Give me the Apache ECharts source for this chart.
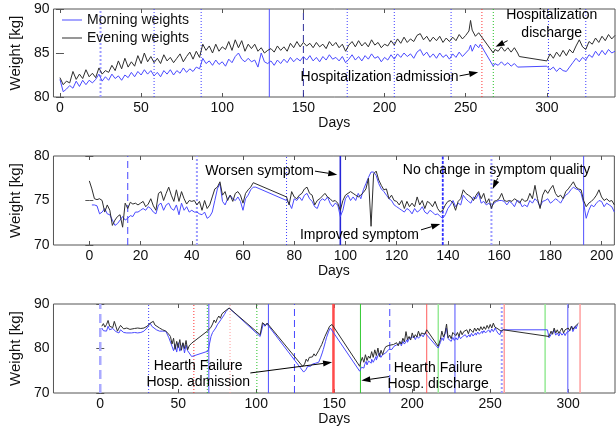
<!DOCTYPE html>
<html><head><meta charset="utf-8">
<script src="https://cdn.jsdelivr.net/npm/echarts@6/dist/echarts.min.js"></script>
<style>html,body{margin:0;padding:0;background:#fff}#c{width:616px;height:427px}</style>
</head><body><div id="c"></div>
<script>
// ---------------- DATA ----------------
const topDays = [
 0,2,4,6,8,10,12,14,16,18,
 20,22,24,26,28,30,32,34,36,38,
 40,42,44,46,48,50,52,54,56,58,
 60,62,64,66,68,70,72,74,76,78,
 80,82,84,86,88,90,92,94,96,98,
 100,102,104,106,108,110,112,114,116,118,
 120,122,124,126,128,130,132,134,136,138,
 140,142,144,146,148,150,152,154,156,158,
 160,162,164,166,168,170,172,174,176,178,
 180,182,184,186,188,190,192,194,196,198,
 200,202,204,206,208,210,212,214,216,218,
 220,222,224,226,228,230,232,234,236,238,
 240,242,244,246,248,250,252,
 253,254,256,258,259,
 267,268,270,272,274,276,278,280,282,283,
 300,302,304,306,308,310,312,314,316,318,320,322,324,326,328,330,332,334,336,338,340,342];
const topEvening = [
 82.2,81.4,81.8,81.6,82.9,82.0,82.6,82.1,83.1,82.3,
 82.7,82.2,83.3,82.6,83.0,82.8,83.6,83.0,84.1,83.2,
 84.4,83.4,84.0,83.5,84.7,83.8,85.0,84.0,84.6,83.9,
 84.4,83.8,84.8,84.1,84.5,83.9,84.4,84.9,84.0,84.6,
 85.1,84.3,85.2,84.5,86.0,85.3,85.8,85.0,86.0,85.2,
 85.7,85.4,86.3,85.3,86.5,85.6,86.4,85.2,86.0,85.5,
 86.0,85.2,85.6,85.0,85.3,85.5,85.1,85.8,85.3,85.7,
 85.2,86.1,85.6,86.3,85.7,86.2,85.8,86.1,85.6,86.2,
 85.7,86.0,85.5,86.3,85.8,86.2,85.6,86.0,85.2,85.9,
 86.3,85.7,86.4,85.8,86.2,85.7,86.5,85.9,86.2,85.6,
 86.0,85.8,86.4,85.9,86.6,86.1,86.8,86.2,86.6,86.3,
 87.0,87.2,86.5,86.9,86.3,86.8,86.4,86.9,86.2,86.7,
 86.3,86.8,86.4,87.1,86.6,87.0,87.5,
 88.7,87.6,86.9,87.3,87.2,
 85.0,85.4,85.2,85.7,85.2,85.6,85.1,85.6,85.0,84.6,
 84.1,84.9,84.4,85.1,84.6,85.3,84.7,85.4,85.0,85.8,86.5,85.7,85.4,86.3,86.0,86.7,86.2,86.9,86.4,87.1,86.6,87.0];
const topMorning = [
 82.0,80.6,80.9,81.3,81.0,81.8,81.2,81.9,81.4,81.9,
 81.6,82.0,82.6,81.8,82.3,81.9,82.6,82.1,82.4,81.9,
 82.5,82.2,82.8,82.3,82.9,82.5,83.1,82.6,83.0,82.4,
 82.8,82.3,83.0,82.6,83.1,82.5,83.0,82.7,83.3,82.8,
 83.2,82.9,83.4,83.2,84.4,83.8,84.1,83.6,84.2,83.7,
 84.0,83.5,84.3,83.9,84.6,85.0,84.3,84.0,84.4,84.0,
 84.2,83.4,85.0,84.0,83.8,84.1,83.6,84.2,83.8,84.3,
 83.9,84.5,84.0,84.4,84.1,84.6,84.2,84.7,84.1,84.5,
 84.0,84.6,84.2,84.8,84.3,84.5,84.1,84.6,83.9,84.3,
 84.8,84.2,84.6,84.1,84.7,84.3,84.9,84.4,84.6,84.0,
 84.5,84.2,84.8,84.3,84.9,84.5,85.0,84.6,84.9,84.4,
 85.1,85.4,84.7,85.1,84.5,84.9,84.4,85.0,84.5,84.8,
 84.3,84.9,84.5,85.1,84.6,85.0,85.4,
 85.9,85.2,86.0,85.6,86.0,
 83.5,83.8,83.6,84.0,83.6,83.9,83.5,83.8,83.4,83.6,
 83.5,83.1,83.4,82.9,83.3,83.0,82.9,83.4,83.9,84.4,84.0,84.5,84.2,84.8,84.5,85.2,84.7,85.3,84.8,85.4,85.0,85.2];

const midEvening = [
 [0,77.2],[1,76.3],[2,75.2],[3,75.1],[4,75.2],[5,75.0],[6,73.7],[7,74.5],[8,73.9],[9,72.2],
 [10,72.8],[11,73.2],[12,73.4],[13,72.0],[14,74.7],[15,74.1],[16,74.8],[17,74.6],[18,74.7],[19,74.5],
 [20,74.7],[21,74.9],[22,74.3],[23,74.6],[24,75.2],[25,74.4],[26,73.9],[27,75.8],[28,76.0],[29,75.0],
 [30,75.8],[31,76.5],[32,75.6],[33,74.9],[34,76.2],[35,74.9],[36,76.0],[37,75.2],[38,74.6],[39,75.0],
 [40,74.9],[41,75.0],[42,74.5],[43,74.9],[44,73.9],[45,75.0],[46,74.1],[47,74.5],[48,75.4],[49,76.3],
 [50,76.5],[51,77.1],[52,75.6],[53,76.0],[54,75.0],[55,75.6],[56,74.9],[57,75.8],[58,76.0],[59,75.6],
 [60,74.7],[61,75.8],[62,76.2],[63,76.5],[64,77.0],
 [77,75.4],[78,74.5],[79,76.0],[80,75.4],[81,75.2],[82,75.6],[83,75.8],[84,76.3],[85,76.5],[86,75.8],
 [87,75.6],[88,74.5],[89,75.0],[90,75.2],[91,75.5],[92,75.8],[93,75.4],[94,75.2],[95,74.9],[96,75.0],
 [97,74.7],[98,73.9],[99,75.0],[100,75.6],[101,75.8],[102,76.0],[103,75.8],[104,75.6],[105,75.4],[106,75.6],
 [107,75.9],[108,76.3],[109,77.5],[110,72.1],[111,78.0],[112,78.3],[113,77.3],[114,76.7],[115,76.2],[116,76.3],
 [117,75.2],[118,75.6],[119,75.0],[120,74.9],[121,74.5],[122,75.0],[123,74.1],[124,74.9],[125,74.3],[126,74.7],
 [127,74.3],[128,75.4],[129,74.5],[130,75.0],[131,74.1],[132,74.9],[133,74.7],[134,74.3],[135,74.9],[136,74.1],
 [137,73.7],[138,73.9],[139,74.5],[140,74.9],[141,75.0],[142,74.7],[143,73.9],[144,74.9],[145,75.2],[146,76.2],
 [147,75.8],[148,75.6],[149,75.4],[150,75.0],[151,75.6],[152,76.0],[153,75.2],[154,75.8],[155,74.7],[156,75.2],
 [157,74.1],[158,74.9],[159,75.0],[160,75.2],[161,75.8],[162,75.0],[163,74.9],[164,75.0],[165,74.9],[166,75.2],
 [167,75.0],[168,74.7],[169,75.2],[170,74.9],[171,75.0],[172,75.8],[173,75.2],[174,76.7],[175,75.2],[176,74.1],
 [177,75.6],[178,76.2],[179,75.8],[180,76.3],[181,76.7],[182,75.8],[183,75.4],[184,75.6],[185,75.2],[186,76.0],
 [187,76.3],[188,76.7],[189,77.1],[190,76.5],[191,76.3],[192,76.2],[193,75.0],[194,74.3],[195,74.7],[196,74.9],
 [197,75.2],[198,75.6],[199,76.2],[200,75.4],[201,75.0],[202,75.2],[203,74.9],[204,75.0],[205,74.5]];
const midMorning = [
 [1,74.5],[2,74.5],[3,74.4],[4,73.5],[5,73.7],[6,74.1],[7,73.5],[8,73.4],[9,72.8],
 [10,72.2],[11,72.4],[12,72.8],[13,73.2],[14,72.8],[15,73.0],[16,73.3],[17,73.2],[18,73.7],[19,73.7],
 [20,73.9],[21,74.1],[22,73.9],[23,74.3],[24,74.1],[25,73.7],[26,73.5],[27,74.5],[28,74.7],[29,73.9],
 [30,74.5],[31,74.7],[32,74.1],[33,73.9],[34,74.5],[35,73.4],[36,74.7],[37,73.9],[38,74.3],[39,73.7],
 [40,73.9],[41,73.7],[42,73.7],[43,73.5],[44,73.4],[45,73.7],[46,73.0],[47,73.2],[48,73.7],[49,75.0],
 [50,76.3],[51,76.9],[52,74.9],[53,74.5],[54,75.2],[55,75.6],[56,75.2],[57,75.0],[58,75.4],[59,74.9],
 [60,73.9],[61,75.2],[62,75.6],[63,76.2],[64,76.5],[65,76.5],
 [77,75.0],[78,74.7],[79,74.1],[80,75.2],[81,75.0],[82,75.4],[83,75.0],[84,75.6],[85,75.8],[86,75.2],
 [87,74.9],[88,74.3],[89,74.1],[90,74.9],[91,75.2],[92,75.0],[93,75.4],[94,74.7],[95,74.3],[96,74.7],
 [97,74.5],[98,73.2],[99,73.9],[100,75.2],[101,75.6],[102,75.0],[103,75.4],[104,75.0],[105,75.8],[106,75.2],
 [107,76.2],[108,76.9],[109,77.6],[110,78.2],[111,78.2],[112,77.8],[113,76.9],[114,76.3],[115,76.0],[116,75.6],
 [117,75.2],[118,75.0],[119,74.5],[120,74.3],[121,74.1],[122,73.9],[123,73.7],[124,74.1],[125,73.9],[126,73.5],
 [127,74.1],[128,73.7],[129,73.9],[130,74.3],[131,73.7],[132,73.5],[133,73.9],[134,73.7],[135,73.4],[136,73.5],
 [137,73.2],[138,73.0],[139,73.4],[140,74.1],[141,74.5],[142,75.0],[143,74.3],[144,74.7],[145,74.5],[146,75.6],
 [147,75.2],[148,74.9],[149,74.7],[150,75.4],[151,75.2],[152,75.8],[153,74.7],[154,74.9],[155,74.5],[156,74.7],
 [157,74.3],[158,74.7],[159,74.9],[160,75.0],[161,75.0],[162,74.9],[163,74.5],[164,74.9],[165,74.7],[166,74.3],
 [167,75.0],[168,74.9],[169,74.3],[170,74.5],[171,74.3],[172,75.0],[173,74.7],[174,75.2],[175,74.9],[176,74.3],
 [177,74.9],[178,75.0],[179,75.2],[180,74.7],[181,74.9],[182,75.2],[183,75.0],[184,74.7],[185,75.2],[186,75.6],
 [187,75.8],[188,76.2],[189,76.5],[190,76.3],[191,76.2],[192,75.8],[193,74.7],[194,73.0],[195,73.9],[196,74.5],
 [197,74.3],[198,74.7],[199,75.0],[200,74.9],[201,74.3],[202,74.7],[203,74.5],[204,74.3],[205,73.7]];

const botEvening = [
 [1,85.0],[2,85.6],[3,84.8],[4,85.4],[5,86.3],[6,85.0],[7,85.4],[8,84.7],[9,86.1],[10,85.0],
 [11,83.9],[12,84.6],[13,85.2],[14,85.0],[15,84.4],[16,84.8],[17,84.6],[18,84.9],[19,84.3],[20,84.6],
 [22,84.5],[24,84.6],[26,84.5],[28,84.6],[30,85.0],[32,85.7],[34,86.1],[35,85.3],[36,85.0],[38,84.6],
 [40,84.2],[42,83.9],[43,84.1],[44,83.2],[45,82.7],[46,81.0],[47,82.3],[48,79.8],[49,81.6],[50,80.2],
 [51,82.0],[52,79.6],[53,81.3],[54,80.0],[55,81.8],[56,79.7],[57,80.6],[58.6,81.2],
 [69,84.0],[70,84.2],[71,84.8],[72,85.5],[73,86.4],[74,85.8],[75,86.7],[76,87.3],[77,86.8],[78,87.8],
 [79,88.0],[80,88.4],[81,88.6],[82.6,89.1],
 [102.5,83.1],[103,83.5],[104,85.8],[105,86.1],[106,85.2],[107,85.7],[108,85.4],
 [129.7,76.0],[131,76.5],[132,77.6],[133,77.1],[134,78.0],[135,77.6],[136,78.1],[137,78.8],[138,78.3],
 [139,78.6],[140,79.5],[141,80.2],[142,80.9],[143,81.8],[144,82.7],[145,83.1],[146,84.2],[147,85.0],[148.6,85.4],
 [166.3,76.0],[167,77.0],[168,78.0],[169,76.9],[170,78.6],[171,77.3],[172,78.3],[173,77.8],[174,79.3],[175,78.0],
 [176,79.7],[177,78.4],[178,80.1],[179,78.2],[180,79.6],[181,78.6],[182,79.7],[183,80.4],[184,80.3],[185,80.7],
 [186,80.5],[188,80.9],[190,81.3],[191,80.6],[192,81.6],[193,81.0],[194,82.3],[195,81.5],[196,83.8],[197,82.0],
 [198,82.7],[199,81.9],[200,83.5],[201,82.4],[202,83.1],[203,82.6],[204,83.9],[205,82.8],[206,83.5],[207,83.8],
 [208,83.2],[209.3,84.2],
 [216.6,80.5],[218,82.0],[219,83.9],[220,82.6],[221,83.4],[222,85.5],[223,82.4],[224,83.0],[225,82.2],[226,83.6],
 [227,83.9],[228,82.9],[229,83.6],[230,82.7],[231,84.0],[232,83.1],[233,83.8],[234,83.5],[235,84.2],[236,83.3],
 [237,84.4],[238,84.2],[239,83.6],[240,84.6],[241,83.9],[242,84.6],[243,84.0],[244,84.9],[245,84.2],[246,84.9],
 [247,84.3],[248,85.2],[249,84.5],[250,85.4],[251,84.6],[252,85.7],[253,84.8],[254,85.0],[255,84.4],[256,84.6],
 [257,83.9],[258.4,84.2],
 [287.7,82.7],[289,83.9],[290,83.2],[291,84.6],[292,83.5],[293,84.2],[294,83.4],[295,84.0],[296,84.6],[297,83.5],
 [298,84.2],[299,83.8],[300,84.6],[301,84.0],[302,85.0],[303,84.3],[304,84.8],[305,85.2],[306.6,85.7]];
const botMorning = [
 [1,84.6],[2,84.0],[3,84.4],[4,83.9],[5,85.0],[6,84.2],[7,84.0],[8,84.5],[9,84.6],[10,83.8],
 [11,83.9],[12,83.5],[13,84.2],[14,84.2],[15,83.6],[16,83.9],[17,83.5],[18,83.8],[20,83.5],[22,83.6],
 [24,83.5],[26,83.6],[28,83.9],[30,84.6],[32,85.7],[33,85.0],[34,84.6],[36,84.2],[38,83.9],[40,83.9],
 [42,83.9],[44,82.4],[45,82.0],[46,80.5],[47,79.5],[48,80.9],[49,79.2],[50,81.3],[51,79.4],[52,79.7],
 [53,81.2],[54,79.0],[55,80.8],[56,79.5],[57,79.7],[58.6,78.2],
 [69.1,79.4],[70,81.0],[71,82.7],[72,83.6],[73,84.0],[74,84.6],[75,85.3],[76,85.6],[77.4,86.5],[78,86.3],
 [79.5,87.6],[80.6,88.3],[82.6,89.1],
 [102.5,82.7],[103,83.0],[104.6,85.7],[105.5,85.0],[106.7,85.6],[107.7,85.4],
 [130.4,74.7],[131.8,75.2],[133,76.0],[133.9,75.6],[134.9,76.0],[136,76.5],[137,76.2],[138.1,76.7],[139,77.1],
 [140,76.9],[141.2,77.9],[142.3,79.0],[143,79.8],[144.4,81.6],[145,82.4],[146.5,83.9],[147.5,84.6],[148.6,85.0],
 [166.3,74.9],[167.4,75.8],[168,76.2],[169,75.6],[169.5,76.4],[170.5,77.1],[171,76.3],[172,77.2],[173.7,76.7],
 [174,77.6],[175,76.9],[176.8,78.2],[177,77.4],[178,78.4],[178.9,79.0],[179.9,78.0],[181,78.6],[182,78.2],
 [183,79.0],[184.1,79.4],[185,79.8],[186.2,80.1],[187,79.8],[188.3,80.5],[189,80.1],[190,80.8],[191,80.5],
 [192.5,81.2],[193,80.6],[194,81.6],[195,81.0],[196.7,82.0],[197,81.4],[198,82.2],[199,81.8],[200.9,82.7],
 [202,82.0],[203,82.8],[204,82.3],[205.1,82.4],[206,83.1],[207,82.6],[208.2,83.5],
 [216.6,80.1],[218,81.3],[219,82.4],[220,81.8],[221.8,84.6],[223,82.2],[225,81.6],[226,82.5],[227,81.8],
 [228.1,82.4],[229,81.9],[230,82.8],[231,82.2],[232.3,82.7],[233,82.3],[234,83.1],[235,82.5],[236.4,83.1],
 [237,82.6],[238,83.4],[239,82.8],[240.6,83.5],[241,83.0],[242,83.7],[243,83.2],[244.8,83.9],[245,83.4],
 [246,84.0],[247,83.5],[249,84.2],[250,83.6],[251,84.4],[252,83.8],[253.2,84.6],[254,84.0],[255,83.4],
 [256.3,83.1],[257,84.0],[258.4,84.2],
 [286.7,84.2],[287.7,82.4],[289,83.1],[290.9,84.2],[292,83.0],[293,83.5],[294,82.8],[295,83.6],[296,83.0],
 [297.2,83.5],[298,82.9],[299,83.6],[300,83.2],[301,84.0],[302.4,85.0],[303,83.8],[304.5,85.0],[305,84.4],[306,85.4]];

// symptom / hospitalization events: [day, kind]
const topEvents = [[25,'nochangeLight'],[58,'nochange'],[87,'nochange'],[129,'worse'],[150,'improvedDark'],
 [177,'nochange'],[206,'nochange'],[241,'nochange'],[260,'admitDot'],[267,'dischargeDot'],[301,'nochange'],[324,'nochange']];
const midEvents = [[15,'improved'],[42,'nochangeLight'],[77,'nochange'],[98,'worseBold'],[138,'improvedBold'],
 [157,'nochangeLight'],[193,'worse']];
const botEvents = [[0,'improvedLight'],[31,'nochange'],[60,'admitDot'],[68.6,'dischargeDot'],[69.6,'worse'],
 [83.2,'admitDotLight'],[100.4,'dischargeDot'],[107.8,'worse'],[124.5,'improved'],[149.5,'admitBold'],
 [166.8,'discharge'],[185.6,'improved'],[209.3,'admit'],[216.7,'dischargeLight'],[227.4,'worse'],
 [257.4,'nochangeLight'],[259,'admitLight'],[285.2,'dischargeLight'],[299.7,'worseLight'],[307.6,'admitLight']];

// annotations: text, [day, weight] anchor; arrows: [from, to] in data units
const topNotes = [['Hospitalization admission', 245.6, 82.3, 'right'], ['Hospitalization\ndischarge', 303, 88.3, 'center']];
const midNotes = [['Worsen symptom', 87.7, 78.35, 'right'], ['Improved symptom', 128.7, 71.1, 'right'],
 ['No change in symptom quality', 159, 78.4, 'center']];
const botNotes = [['Hearth Failure\nHosp. admission', 62.8, 74.2, 'center'], ['Hearth Failure\nHosp. discharge', 216.6, 73.7, 'center']];
const topArrows = [[[246.2,82.4],[257.7,82.8]], [[275.8,86.4],[268.4,85.7]]];
const midArrows = [[[88.1,78.3],[96.8,77.9]], [[129.5,71.7],[137.0,72.35]], [[159.4,77.5],[157.5,76.3]]];
const botArrows = [[[96.2,74.5],[148.6,76.9]], [[185.2,73.7],[167.4,72.8]]];

const topTicks = [0,50,100,150,200,250,300];
const midTicks = [0,20,40,60,80,100,120,140,160,180,200];
const botTicks = [0,50,100,150,200,250,300];

// ---------------- CHART ----------------
const FONT = 'Liberation Sans, Arial, Helvetica, sans-serif';
const EV = {
  nochange:{color:'#3c3cff',width:1,dash:[1,2]},
  nochangeLight:{color:'#9c9cff',width:2,dash:[2,2]},
  worse:{color:'#5050ff',width:1,dash:null},
  worseBold:{color:'#2626d8',width:1.6,dash:null},
  worseLight:{color:'#8c8cff',width:1.5,dash:null},
  improved:{color:'#4646ff',width:1,dash:[7,4]},
  improvedDark:{color:'#30309a',width:1,dash:[7,4]},
  improvedBold:{color:'#3030ff',width:1.8,dash:[3,1.5]},
  improvedLight:{color:'#aaaaff',width:2.5,dash:[9,5]},
  admitDot:{color:'#ff3030',width:1,dash:[1,2]},
  admitDotLight:{color:'#ff9a9a',width:1,dash:[1,2]},
  admit:{color:'#ff5a5a',width:1,dash:null},
  admitBold:{color:'#ff4a4a',width:2.5,dash:null},
  admitLight:{color:'#ffa0a0',width:1.5,dash:null},
  dischargeDot:{color:'#22c022',width:1,dash:[1,2]},
  discharge:{color:'#30c830',width:1,dash:null},
  dischargeLight:{color:'#96ea96',width:1.5,dash:null}
};
const grids = [
  {left:43, top:9, width:572, height:88},
  {left:43, top:156, width:572, height:89},
  {left:43, top:304, width:572, height:89}
];
const xr = [[-4,342],[-14,205],[-30,330]];
const yr = [[80,90,5],[70,80,5],[70,90,10]];
const ticks = [topTicks, midTicks, botTicks];
const eventsAll = [topEvents, midEvents, botEvents];
const arrowsAll = [topArrows, midArrows, botArrows];
const notesAll = [topNotes, midNotes, botNotes];
const eveAll = [topDays.map((d,i)=>[d, topEvening[i]]), midEvening, botEvening];
const morAll = [topDays.map((d,i)=>[d, topMorning[i]]), midMorning, botMorning];

const axisCol = '#555';
const xAxis = [], yAxis = [], series = [];
for (let i = 0; i < 3; i++) {
  xAxis.push({type:'value', gridIndex:i, min:xr[i][0], max:xr[i][1], position:'bottom',
    axisLine:{show:false}, splitLine:{show:false},
    axisTick:{show:true, inside:true, length:4, customValues:ticks[i], lineStyle:{color:axisCol}},
    axisLabel:{customValues:ticks[i], fontSize:14, color:'#111', margin:4, fontFamily:FONT},
    name:'Days', nameLocation:'middle', nameGap:17,
    nameTextStyle:{fontSize:14, color:'#111', fontFamily:FONT}});
}
for (let i = 0; i < 3; i++) {
  xAxis.push({type:'value', gridIndex:i, min:xr[i][0], max:xr[i][1], position:'top',
    axisLine:{show:false}, splitLine:{show:false}, axisLabel:{show:false},
    axisTick:{show:true, inside:true, length:4, customValues:ticks[i], lineStyle:{color:axisCol}}});
}
for (let i = 0; i < 3; i++) {
  yAxis.push({type:'value', gridIndex:i, min:yr[i][0], max:yr[i][1], interval:yr[i][2], position:'left',
    axisLine:{show:false}, splitLine:{show:false},
    axisTick:{show:true, inside:true, length:4, lineStyle:{color:axisCol}},
    axisLabel:{fontSize:14, color:'#111', margin:4, fontFamily:FONT},
    name:'Weight [kg]', nameLocation:'middle', nameGap:21,
    nameTextStyle:{fontSize:15, color:'#111', fontFamily:FONT}});
}
for (let i = 0; i < 3; i++) {
  yAxis.push({type:'value', gridIndex:i, min:yr[i][0], max:yr[i][1], interval:yr[i][2], position:'right',
    axisLine:{show:false}, splitLine:{show:false}, axisLabel:{show:false},
    axisTick:{show:true, inside:true, length:4, lineStyle:{color:axisCol}}});
}
for (let i = 0; i < 3; i++) {
  series.push({name:'Morning weights', type:'line', xAxisIndex:i, yAxisIndex:i, data:morAll[i],
    symbol:'none', color:'#4a4aff', lineStyle:{color:'#4a4aff', width:1}, z:3});
  series.push({name:'Evening weights', type:'line', xAxisIndex:i, yAxisIndex:i, data:eveAll[i],
    symbol:'none', color:'#2e2e2e', lineStyle:{color:'#2e2e2e', width:1}, z:4});
}

const chart = echarts.init(document.getElementById('c'));
chart.setOption({
  animation:false,
  backgroundColor:'#fff',
  grid: grids.map(g => Object.assign({show:true, borderColor:axisCol, borderWidth:1, containLabel:false}, g)),
  xAxis, yAxis, series,
  legend:{show:true, orient:'vertical', left:62, top:12, padding:0, itemGap:2, itemWidth:20, itemHeight:1,
    icon:'rect', data:['Morning weights','Evening weights'], selectedMode:false,
    textStyle:{fontSize:14, color:'#111', fontFamily:FONT, lineHeight:16}}
});

// event lines, arrows and notes, positioned through the chart's own scales
const graphic = [];
for (let i = 0; i < 3; i++) {
  const px = v => chart.convertToPixel({xAxisIndex:i, yAxisIndex:i}, v);
  eventsAll[i].forEach(e => {
    const st = EV[e[1]];
    const a = px([e[0], yr[i][0]]), b = px([e[0], yr[i][1]]);
    graphic.push({type:'line', z:2, silent:true,
      shape:{x1:a[0], y1:a[1], x2:b[0], y2:b[1]},
      style:{stroke:st.color, lineWidth:st.width, lineDash:st.dash}});
  });
  arrowsAll[i].forEach(ar => {
    const p = px(ar[0]), q = px(ar[1]);
    const dx = q[0]-p[0], dy = q[1]-p[1], L = Math.hypot(dx, dy), ux = dx/L, uy = dy/L;
    const hl = 9, hw = 3;
    const bx = q[0]-ux*hl, by = q[1]-uy*hl;
    graphic.push({type:'line', z:50, silent:true, shape:{x1:p[0], y1:p[1], x2:bx, y2:by},
      style:{stroke:'#000', lineWidth:1}});
    graphic.push({type:'polygon', z:50, silent:true,
      shape:{points:[[q[0],q[1]],[bx-uy*hw, by+ux*hw],[bx+uy*hw, by-ux*hw]]},
      style:{fill:'#000'}});
  });
  notesAll[i].forEach(n => {
    const p = px([n[1], n[2]]);
    graphic.push({type:'text', x:p[0], y:p[1], z:100, silent:true,
      style:{text:n[0], fontSize:14, fontFamily:FONT, fill:'#000', align:n[3], verticalAlign:'middle',
        lineHeight: i === 0 ? 18 : 16}});
  });
}
chart.setOption({graphic});
</script></body></html>
